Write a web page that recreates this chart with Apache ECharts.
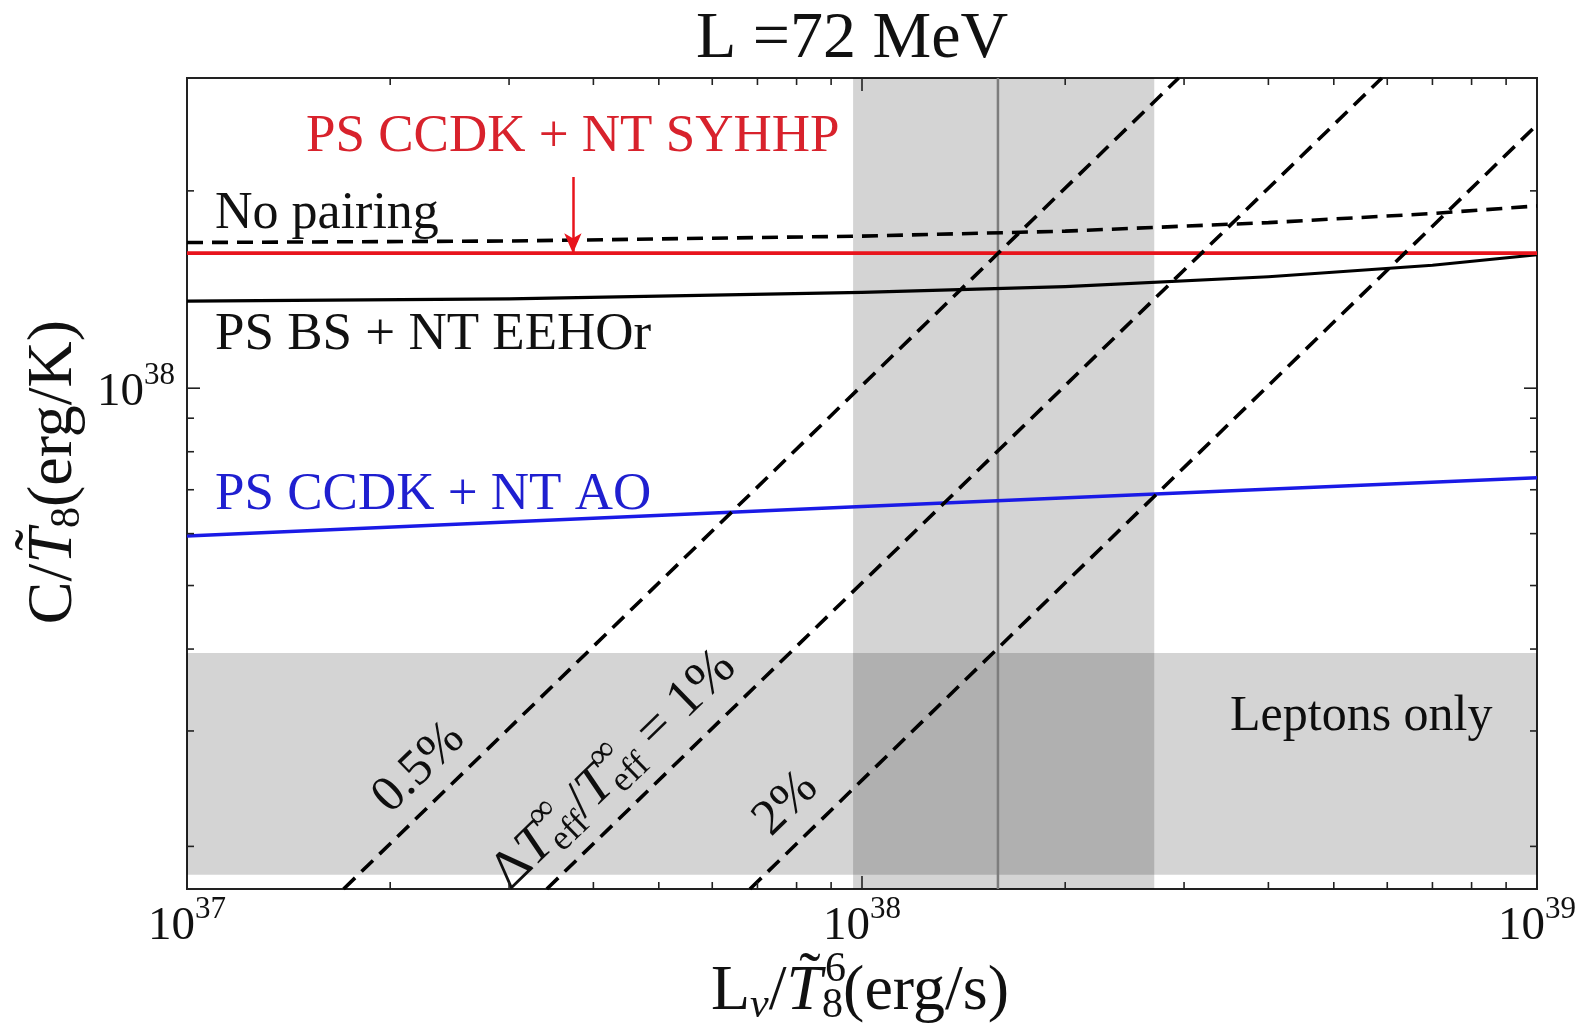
<!DOCTYPE html>
<html>
<head>
<meta charset="utf-8">
<title>L = 72 MeV</title>
<script src="https://cdn.jsdelivr.net/npm/echarts@6/dist/echarts.min.js"></script>
<style>
  html, body { margin: 0; padding: 0; background: #fff; }
  #chart { width: 1585px; height: 1026px; }
</style>
</head>
<body>
<div id="chart"></div>
<script>
const FONT = '"Liberation Serif", "DejaVu Serif", serif';

// ---- axis extents and ticks ----
const xExtent = [1e37, 1e39];
const yExtent = [1.722e37, 2.973e38];
const xMajorTicks = [1e37, 1e38, 1e39];
const xMinorTicks = [2e37, 3e37, 4e37, 5e37, 6e37, 7e37, 8e37, 9e37,
                     2e38, 3e38, 4e38, 5e38, 6e38, 7e38, 8e38, 9e38];
const yMajorTicks = [1e38];
const yMinorTicks = [2e37, 3e37, 4e37, 5e37, 6e37, 7e37, 8e37, 9e37, 2e38];

// ---- model curves: L_nu/T8^6 (erg/s) vs C/T8 (erg/K) ----
const curveL      = [1e37, 3e37, 1e38, 2e38, 4e38, 7e38, 1e39];
const noPairingC  = [1.668e38, 1.677e38, 1.706e38, 1.736e38, 1.789e38, 1.847e38, 1.897e38];
const bsEehorC    = [1.358e38, 1.369e38, 1.400e38, 1.429e38, 1.479e38, 1.540e38, 1.598e38];
const syhhpL      = [1e37, 1e39];
const syhhpC      = [1.607e38, 1.607e38];
const aoL         = [1e37, 1e38, 1e39];
const aoC         = [5.95e37, 6.6e37, 7.3e37];

// ---- lines of constant ΔT/T (end points on the frame) ----
const diag05L = [1.706e37, 2.945e38];
const diag05C = [1.722e37, 2.973e38];
const diag1L  = [3.412e37, 5.891e38];
const diag1C  = [1.722e37, 2.973e38];
const diag2L  = [6.823e37, 1e39];
const diag2C  = [1.722e37, 2.523e38];

// ---- shaded constraints ----
const lumBand     = [9.7e37, 2.71e38];   // allowed L_nu range
const lumCentral  = 1.59e38;             // central L_nu
const leptonBand  = [1.81e37, 3.946e37]; // leptons-only heat capacity
// arrow pointing to the CCDK + SYHHP curve
const arrowL      = 3.73e37;
const arrowFromC  = 2.10e38;

const zip = (a, b) => a.map((v, i) => [v, b[i]]);

// ---- tick marks on all four sides ----
const tickData = [];
xMajorTicks.forEach(v => tickData.push([v, yExtent[0], 1]));
xMinorTicks.forEach(v => tickData.push([v, yExtent[0], 0]));
yMajorTicks.forEach(v => tickData.push([xExtent[0], v, 3]));
yMinorTicks.forEach(v => tickData.push([xExtent[0], v, 2]));

function renderTick(params, api) {
  const kind = api.value(2);
  const cs = params.coordSys;
  const p = api.coord([api.value(0), api.value(1)]);
  const len = (kind === 1 || kind === 3) ? 13 : 7;
  const st = { stroke: '#222', lineWidth: 1.6 };
  if (kind < 2) {
    const x = p[0], top = cs.y, bot = cs.y + cs.height;
    return { type: 'group', children: [
      { type: 'line', shape: { x1: x, y1: bot, x2: x, y2: bot - len }, style: st },
      { type: 'line', shape: { x1: x, y1: top, x2: x, y2: top + len }, style: st }
    ]};
  }
  const y = p[1], left = cs.x, right = cs.x + cs.width;
  return { type: 'group', children: [
    { type: 'line', shape: { x1: left, y1: y, x2: left + len, y2: y }, style: st },
    { type: 'line', shape: { x1: right, y1: y, x2: right - len, y2: y }, style: st }
  ]};
}

// ---- text helpers (formulas with sub/superscripts) ----
const measureCtx = document.createElement('canvas').getContext('2d');
function textEl(text, x, y, size, color, italic) {
  return {
    type: 'text', x: x, y: y, silent: true,
    style: {
      text: text, fontSize: size, fontFamily: FONT,
      fontStyle: italic ? 'italic' : 'normal',
      fill: color, align: 'left', verticalAlign: 'middle',
      textAlign: 'left', textVerticalAlign: 'middle'
    }
  };
}
function textWidth(text, size, italic) {
  measureCtx.font = (italic ? 'italic ' : '') + size + 'px ' + FONT;
  return measureCtx.measureText(text).width;
}
function formula(parts, S, color) {
  let x = 0;
  const kids = [];
  parts.forEach(p => {
    const group = p.stack || [p];
    let w = 0;
    group.forEach(q => {
      const size = q.s || S;
      const qw = textWidth(q.t, size, q.it);
      kids.push(textEl(q.t, x + (q.dx || 0), q.dy || 0, size, color, q.it));
      if (!q.over) w = Math.max(w, qw);
    });
    x += w;
  });
  kids.forEach(k => { k.x -= x / 2; });
  return kids;
}
function formulaGroup(parts, S, color, cx, cy, rot) {
  return { type: 'group', x: cx, y: cy, rotation: rot || 0, silent: true,
           children: formula(parts, S, color) };
}

// axis titles
const TS = 64, ts = 42;
const Ttilde = { stack: [{ t: 'T', it: true }, { t: '\u02DC', dx: TS * 0.2, dy: -TS * 0.2, over: true }] };

const yTitle = formulaGroup([
  { t: 'C/' }, Ttilde, { t: '8', s: ts, dy: TS * 0.22 }, { t: '(erg/K)' }
], TS, '#111', 54, 472, Math.PI / 2);

const xTitle = formulaGroup([
  { t: 'L' }, { t: '\u03BD', it: true, s: ts, dy: TS * 0.22 }, { t: '/' }, Ttilde,
  { stack: [{ t: '6', s: ts, dx: 3, dy: -TS * 0.34 }, { t: '8', s: ts, dy: TS * 0.22 }] },
  { t: '(erg/s)' }
], TS, '#111', 860, 992, 0);

// labels along the constant-precision lines
const rot = Math.atan(655.5 / 675);
const LS = 54, ls = 36;
const label1pct = formulaGroup([
  { t: '\u0394' }, { t: 'T', it: true },
  { stack: [{ t: '\u221E', s: ls, dy: -LS * 0.36 }, { t: 'eff', s: ls, dy: LS * 0.26 }] },
  { t: '/' }, { t: 'T', it: true },
  { stack: [{ t: '\u221E', s: ls, dy: -LS * 0.36 }, { t: 'eff', s: ls, dy: LS * 0.26 }] },
  { t: ' = 1%' }
], LS, '#111', 614, 770, rot);

const label05 = formulaGroup([{ t: '0.5%' }], 51, '#111', 419, 768, rot);
const label2 = formulaGroup([{ t: '2%' }], 51, '#111', 786, 804, rot);

const titleText = 'L =72 MeV';
const titleSize = 66;
const titleX = 852 - textWidth(titleText, titleSize) / 2;

const chart = echarts.init(document.getElementById('chart'));

const expLabel = v => {
  const e = Math.log10(v), r = Math.round(e);
  return Math.abs(e - r) < 1e-6 ? '{b|10}{s|' + r + '}' : '';
};
const tickRich = {
  b: { fontSize: 47, fontFamily: FONT, color: '#111', lineHeight: 56, verticalAlign: 'bottom' },
  s: { fontSize: 31, fontFamily: FONT, color: '#111', lineHeight: 26, verticalAlign: 'top' }
};

const dashStyle = { color: '#000', width: 3.6, type: [16, 9] };

chart.setOption({
  animation: false,
  backgroundColor: '#fff',
  grid: { left: 187, right: 48, top: 78, bottom: 137, show: true,
          borderColor: '#222', borderWidth: 2, backgroundColor: 'transparent' },
  xAxis: {
    type: 'log', logBase: 10, min: xExtent[0], max: xExtent[1],
    axisLine: { show: false }, axisTick: { show: false }, splitLine: { show: false },
    axisLabel: { formatter: expLabel, rich: tickRich, margin: 5, showMinLabel: true, showMaxLabel: true }
  },
  yAxis: {
    type: 'log', logBase: 10, min: yExtent[0], max: yExtent[1],
    axisLine: { show: false }, axisTick: { show: false }, splitLine: { show: false },
    axisLabel: { formatter: expLabel, rich: tickRich, margin: 12 }
  },
  series: [
    {
      name: 'central L', type: 'line', z: 1, silent: true, symbol: 'none',
      data: [[lumCentral, yExtent[0]], [lumCentral, yExtent[1]]],
      lineStyle: { color: '#7d7d7d', width: 2.5 },
      markArea: {
        silent: true,
        itemStyle: { color: 'rgba(0,0,0,0.17)' },
        data: [
          [{ coord: [lumBand[0], yExtent[0]] }, { coord: [lumBand[1], yExtent[1]] }],
          [{ coord: [xExtent[0], leptonBand[0]] }, { coord: [xExtent[1], leptonBand[1]] }]
        ]
      }
    },
    {
      name: 'PS CCDK + NT AO', type: 'line', z: 3, symbol: 'none', silent: true,
      data: zip(aoL, aoC), lineStyle: { color: '#1a1ae6', width: 3.6 }
    },
    {
      name: 'PS BS + NT EEHOr', type: 'line', z: 3, symbol: 'none', silent: true,
      data: zip(curveL, bsEehorC), lineStyle: { color: '#000', width: 3.2, join: 'round' }
    },
    {
      name: 'No pairing', type: 'line', z: 3, symbol: 'none', silent: true,
      data: zip(curveL, noPairingC), lineStyle: dashStyle
    },
    {
      name: 'PS CCDK + NT SYHHP', type: 'line', z: 4, symbol: 'none', silent: true,
      data: zip(syhhpL, syhhpC), lineStyle: { color: '#e8141c', width: 3.8 },
      markLine: {
        silent: true, symbol: ['none', 'arrow'], symbolSize: [13, 20],
        label: { show: false },
        lineStyle: { color: '#e8141c', width: 2.5, type: 'solid' },
        data: [[{ coord: [arrowL, arrowFromC] }, { coord: [arrowL, syhhpC[0]] }]]
      }
    },
    { name: '0.5%', type: 'line', z: 5, symbol: 'none', silent: true,
      data: zip(diag05L, diag05C), lineStyle: dashStyle },
    { name: '1%', type: 'line', z: 5, symbol: 'none', silent: true,
      data: zip(diag1L, diag1C), lineStyle: dashStyle },
    { name: '2%', type: 'line', z: 5, symbol: 'none', silent: true,
      data: zip(diag2L, diag2C), lineStyle: dashStyle },
    {
      name: 'ticks', type: 'custom', z: 6, silent: true, clip: false,
      encode: { x: 0, y: 1 }, data: tickData, renderItem: renderTick
    }
  ],
  graphic: [
    textEl(titleText, titleX, 40, titleSize, '#111', false),
    textEl('PS CCDK + NT SYHHP', 306, 137, 53, '#d8222c', false),
    textEl('No pairing', 215, 214, 52, '#111', false),
    textEl('PS BS + NT EEHOr', 215, 335, 53, '#111', false),
    textEl('PS CCDK + NT AO', 215, 495, 53, '#1f1fd0', false),
    textEl('Leptons only', 1230, 717, 50, '#111', false),
    label05, label1pct, label2, yTitle, xTitle
  ]
});
</script>
</body>
</html>
